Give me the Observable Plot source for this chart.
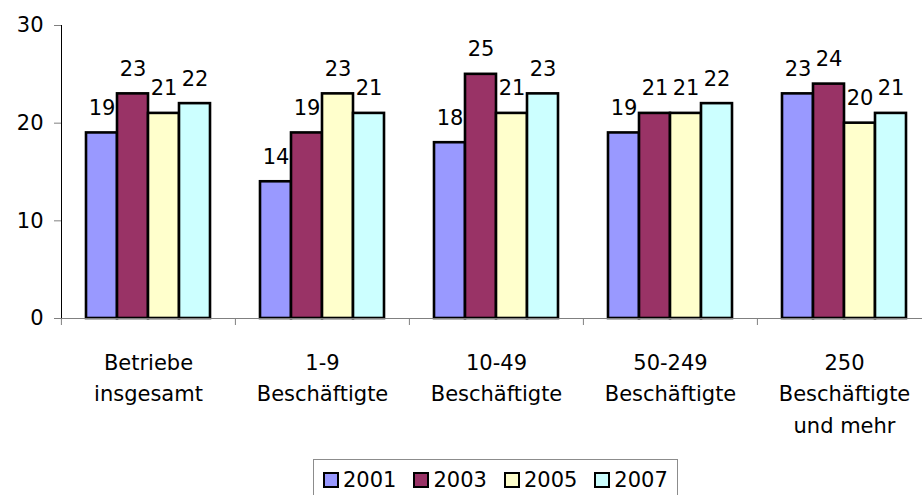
<!DOCTYPE html>
<html>
<head>
<meta charset="utf-8">
<script src="https://cdn.jsdelivr.net/npm/d3@7"></script>
<script src="https://cdn.jsdelivr.net/npm/@observablehq/plot@0.6"></script>
<style>
  html, body { margin: 0; padding: 0; background: #fff; overflow: hidden; width: 922px; height: 495px; }
  body { font-family: "DejaVu Sans", sans-serif; }
  #legend { margin-left: 313px; margin-top: 14px; width: 365px; height: 50px; border: 1px solid #8c8c8c; box-sizing: border-box;
            display: flex; align-items: center; padding-left: 9px; padding-bottom: 8px; }
  .item { display: flex; align-items: center; margin-right: 17px; font-size: 21px; color: #000; }
  .sw { width: 12px; height: 12px; border: 2px solid #000; margin-right: 4px; }
</style>
</head>
<body>
<div id="chart"></div>
<script>
const categories = ["Betriebe\ninsgesamt", "1-9\nBeschäftigte", "10-49\nBeschäftigte", "50-249\nBeschäftigte", "250\nBeschäftigte\nund mehr"];
const years = ["2001", "2003", "2005", "2007"];
const colors = ["#9999FF", "#993366", "#FFFFCC", "#CCFFFF"];
const v2001 = [19, 14, 18, 19, 23];
const v2003 = [23, 19, 25, 21, 24];
const v2005 = [21, 23, 21, 21, 20];
const v2007 = [22, 21, 23, 22, 21];
const yTicks = [0, 10, 20, 30];

const series = [v2001, v2003, v2005, v2007];
const data = [];
categories.forEach((c, i) => years.forEach((y, j) => data.push({cat: c, year: y, value: series[j][i]})));

const W = 922, mL = 60, mR = -9;
const step = (W - mR - mL) / categories.length;

const chart = Plot.plot({
  width: W, height: 445,
  marginLeft: mL, marginRight: mR, marginTop: 25, marginBottom: 127,
  style: {fontFamily: "'DejaVu Sans', sans-serif", color: "#000", background: "#fff"},
  fx: {domain: categories, padding: 0, axis: null},
  x: {domain: years, paddingInner: 0, paddingOuter: 0.74, axis: null},
  y: {domain: [0, 30], axis: null},
  color: {domain: years, range: colors},
  marks: [
    Plot.barY(data, {fx: "cat", x: "year", y: "value", fill: "year", stroke: "#000", strokeWidth: 2.6}),
    Plot.ruleY([0], {stroke: "#808080", strokeWidth: 1}),
    Plot.frame({anchor: "left", facetAnchor: "left", stroke: "#000"}),
    Plot.axisY({ticks: yTicks, tickSize: 7, tickPadding: 11, fontSize: 21, label: null, stroke: "#808080", fill: "#000"}),
    Plot.axisFx({anchor: "bottom", tickSize: 7, tickFormat: () => "", dx: -step / 2, label: null, stroke: "#808080"}),
    Plot.axisFx({anchor: "bottom", tickSize: 0, tickPadding: 29, fontSize: 21, lineHeight: 1.5, label: null}),
    Plot.text(data, {fx: "cat", x: "year", y: "value", text: d => String(d.value), dy: -18, lineAnchor: "bottom", fontSize: 21, fill: "#000"})
  ]
});
document.getElementById("chart").appendChild(chart);

const legend = document.createElement("div");
legend.id = "legend";
years.forEach((y, i) => {
  const it = document.createElement("div");
  it.className = "item";
  const sw = document.createElement("div");
  sw.className = "sw";
  sw.style.background = colors[i];
  const t = document.createElement("span");
  t.textContent = y;
  it.appendChild(sw); it.appendChild(t);
  legend.appendChild(it);
});
document.body.appendChild(legend);
</script>
</body>
</html>
